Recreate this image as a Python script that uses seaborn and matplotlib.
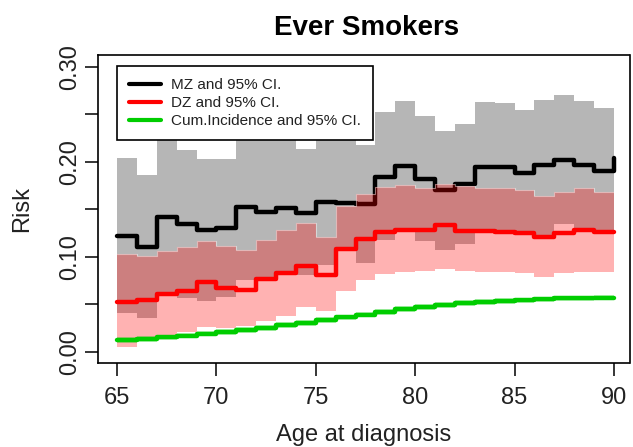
import matplotlib
matplotlib.use("Agg")
import numpy as np
import pandas as pd
import matplotlib.pyplot as plt
import seaborn as sns
from matplotlib.lines import Line2D

# ---------------- data ----------------
years = [65, 66, 67, 68, 69, 70, 71, 72, 73, 74, 75, 76, 77,
         78, 79, 80, 81, 82, 83, 84, 85, 86, 87, 88, 89, 90]

mz = [0.122, 0.110, 0.142, 0.134, 0.128, 0.130, 0.152, 0.147, 0.151, 0.146, 0.158, 0.157, 0.155,
      0.184, 0.195, 0.182, 0.170, 0.176, 0.194, 0.194, 0.188, 0.197, 0.202, 0.196, 0.190, 0.204]
mz_upper = [0.204, 0.186, 0.235, 0.212, 0.203, 0.203, 0.235, 0.235, 0.235, 0.213, 0.235, 0.235, 0.218,
            0.252, 0.264, 0.248, 0.232, 0.240, 0.263, 0.262, 0.254, 0.265, 0.270, 0.264, 0.256, 0.256]
mz_lower = [0.041, 0.035, 0.060, 0.057, 0.053, 0.058, 0.0755, 0.078, 0.085, 0.081, 0.091, 0.108, 0.093,
            0.118, 0.128, 0.116, 0.107, 0.113, 0.128, 0.128, 0.126, 0.123, 0.134, 0.129, 0.127, 0.127]

dz = [0.052, 0.054, 0.061, 0.064, 0.073, 0.067, 0.065, 0.076, 0.083, 0.090, 0.081, 0.108, 0.119,
      0.126, 0.128, 0.128, 0.133, 0.127, 0.127, 0.126, 0.125, 0.121, 0.125, 0.128, 0.126, 0.126]
dz_upper = [0.103, 0.101, 0.106, 0.110, 0.117, 0.111, 0.107, 0.118, 0.128, 0.135, 0.121, 0.153, 0.166,
            0.173, 0.175, 0.172, 0.177, 0.174, 0.172, 0.172, 0.170, 0.164, 0.168, 0.172, 0.168, 0.168]
dz_lower = [0.005, 0.011, 0.016, 0.021, 0.026, 0.025, 0.027, 0.032, 0.038, 0.047, 0.043, 0.064, 0.075,
            0.082, 0.084, 0.085, 0.087, 0.085, 0.084, 0.084, 0.083, 0.079, 0.083, 0.084, 0.084, 0.084]

cum = [0.012, 0.013, 0.015, 0.017, 0.019, 0.021, 0.023, 0.025, 0.028, 0.030, 0.033, 0.036, 0.039,
       0.042, 0.045, 0.047, 0.049, 0.051, 0.052, 0.053, 0.054, 0.055, 0.056, 0.056, 0.057, 0.057]
cum_lower = [0.009, 0.010, 0.012, 0.014, 0.016, 0.018, 0.020, 0.022, 0.025, 0.027, 0.030, 0.033, 0.036,
             0.039, 0.042, 0.044, 0.046, 0.048, 0.049, 0.050, 0.051, 0.052, 0.053, 0.053, 0.054, 0.054]
cum_upper = [0.015, 0.016, 0.018, 0.020, 0.022, 0.024, 0.026, 0.028, 0.031, 0.033, 0.036, 0.039, 0.042,
             0.045, 0.048, 0.050, 0.052, 0.054, 0.055, 0.056, 0.057, 0.058, 0.059, 0.059, 0.060, 0.060]

x_ticks = [65, 70, 75, 80, 85, 90]
y_ticks = [0.00, 0.05, 0.10, 0.15, 0.20, 0.25, 0.30]
y_tick_labels = ["0.00", "", "0.10", "", "0.20", "", "0.30"]
legend_labels = ["MZ and 95% CI.", "DZ and 95% CI.", "Cum.Incidence and 95% CI."]
title = "Ever Smokers"
xlabel = "Age at diagnosis"
ylabel = "Risk"

# ---------------- styling ----------------
sns.set_style("ticks")
plt.rcParams["font.family"] = ["Liberation Sans", "DejaVu Sans"]

GREY = "#B6B6B6"
RED = "#FF0000"
GREEN = "#00CD00"

W, H = 633, 447
fig = plt.figure(figsize=(W / 100, H / 100), dpi=100)
fig.patch.set_facecolor("white")
L, R, T, B = 98, 629.5, 55, 363
ax = fig.add_axes([L / W, 1 - B / H, (R - L) / W, (B - T) / H])
ax.set_facecolor("white")

df = pd.DataFrame({"age": years, "mz": mz, "dz": dz, "cum": cum})

# MZ confidence band, then MZ line
ax.fill_between(years, mz_lower, mz_upper, step="post", color=GREY, lw=0, zorder=1)
sns.lineplot(data=df, x="age", y="mz", drawstyle="steps-post", color="black",
             lw=3.2, estimator=None, ax=ax, zorder=2)
# DZ confidence band (translucent, over the MZ line), then DZ line
ax.fill_between(years, dz_lower, dz_upper, step="post", color=RED, alpha=0.30, lw=0, zorder=3)
ax.step(years, dz_upper, where="post", color="white", alpha=0.45, lw=0.8, zorder=3.5)
sns.lineplot(data=df, x="age", y="dz", drawstyle="steps-post", color=RED,
             lw=3.2, estimator=None, ax=ax, zorder=4)
# cumulative incidence band and line
ax.fill_between(years, cum_lower, cum_upper, step="post", color=GREEN, alpha=0.25, lw=0, zorder=5)
sns.lineplot(data=df, x="age", y="cum", drawstyle="steps-post", color=GREEN,
             lw=3.2, estimator=None, ax=ax, zorder=6)

ax.set_xlim(64.044, 90.78)
ax.set_ylim(-0.0119, 0.3123)

ax.set_xticks(x_ticks)
ax.set_xticklabels([str(v) for v in x_ticks])
ax.set_yticks(y_ticks)
ax.set_yticklabels(y_tick_labels)
ax.tick_params(axis="both", direction="out", length=9.5, width=1.1, colors="black",
               labelsize=17, labelcolor="#222222")
ax.tick_params(axis="x", pad=8)
ax.tick_params(axis="y", pad=3)
for lab in ax.get_yticklabels():
    lab.set_rotation(90)
    lab.set_va("center")

for sp in ax.spines.values():
    sp.set_visible(True)
    sp.set_linewidth(1.2)
    sp.set_color("black")

ax.set_xlabel(xlabel, fontsize=17, color="#222222")
ax.set_ylabel(ylabel, fontsize=17, color="#222222")
ax.xaxis.set_label_coords(0.5, -0.198)
ax.yaxis.set_label_coords(-0.123, 0.5)

fig.text(366.5 / W, 1 - 35 / H, title, ha="center", va="baseline",
         fontsize=20, fontweight="bold", color="black")

handles = [Line2D([], [], color=c, lw=3) for c in ["black", RED, GREEN]]
LEG_FS = 11
fs_px = LEG_FS * 100 / 72.0
LEG_W, LEG_H = 256, 74  # target legend box size in pixels


def make_legend(bp, ls):
    lg = ax.legend(handles, legend_labels, loc="upper left",
                   bbox_to_anchor=((117 - L) / (R - L), (B - 66) / (B - T)),
                   fontsize=LEG_FS, frameon=True, fancybox=False, framealpha=1,
                   edgecolor="black", facecolor="white", borderpad=bp,
                   handlelength=2.1, handletextpad=0.65, labelspacing=ls,
                   borderaxespad=0)
    lg.get_frame().set_linewidth(1.2)
    lg.set_zorder(10)
    for t in lg.get_texts():
        t.set_color("#222222")
    return lg


bp0, ls0 = 0.8, 0.3
leg = make_legend(bp0, ls0)
fig.canvas.draw()
bb = leg.get_window_extent()
content_w = bb.width - 2 * bp0 * fs_px
bp1 = max(0.3, (LEG_W - content_w) / (2 * fs_px))
content_h = bb.height - 2 * bp0 * fs_px - 2 * ls0 * fs_px
ls1 = max(0.0, (LEG_H - content_h - 2 * bp1 * fs_px) / (2 * fs_px))
leg.remove()
leg = make_legend(bp1, ls1)

fig.savefig("out.png", dpi=100, facecolor="white")
